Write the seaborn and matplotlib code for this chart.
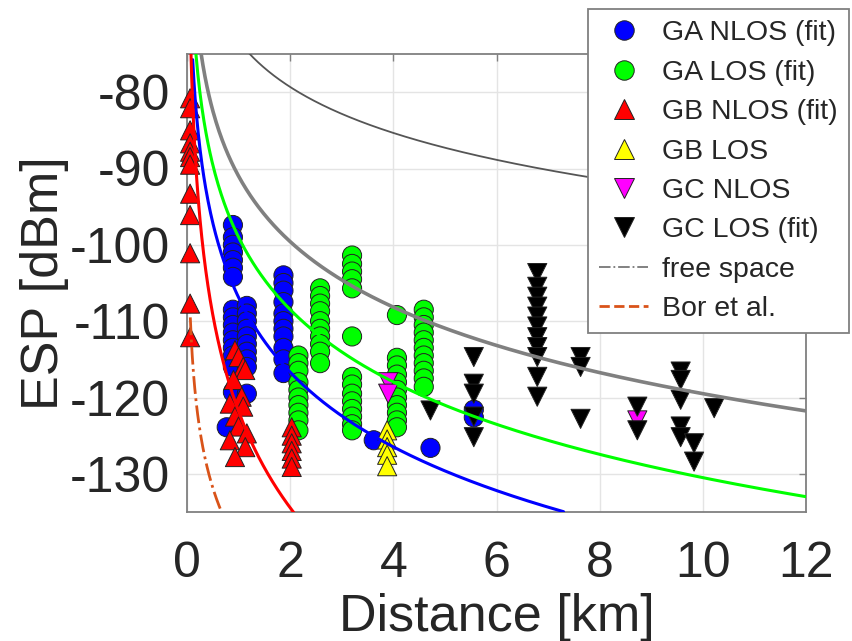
import numpy as np
import matplotlib
matplotlib.use("Agg")
import matplotlib.pyplot as plt
from matplotlib.lines import Line2D
import seaborn as sns
import pandas as pd

# measured ESP values per group (distance in km, ESP in dBm)
ga_nlos_d = [0.89]*16 + [0.77] + [1.16]*10 + [1.87]*11 + [3.62, 4.72, 5.56, 5.56]
ga_nlos_esp = [-97.4, -99, -100, -101, -102, -103, -104.2, -108.5, -109.5, -110.5,
               -111.5, -112.5, -113.5, -114.5, -116, -119.3,
               -123.9,
               -108, -109, -110, -111, -112, -113, -114, -115, -116, -119.5,
               -104, -105, -106, -107.5, -109, -110, -111, -112, -113.5, -115, -116.8,
               -125.6, -126.6, -121.6, -122.6]

ga_los_d = [2.16]*10 + [2.58]*10 + [3.2]*14 + [4.07]*11 + [4.59]*11
ga_los_esp = [-114.5, -115.5, -116.5, -118, -119, -120, -121, -122, -123, -124.3,
              -105.7, -106.7, -107.7, -108.7, -110, -111, -112, -113, -114, -115.5,
              -101.4, -102.5, -103.5, -104.5, -105.7, -112, -117.3, -118.3, -119.5,
              -120.5, -121.5, -122.5, -123.5, -124.3,
              -109.2, -114.8, -115.8, -117, -118, -119, -120, -121, -122, -123, -123.9,
              -108.5, -109.5, -110.5, -111.5, -112.5, -113.5, -114.5, -115.5, -116.5,
              -117.5, -118.6]

gb_nlos_d = ([0.06]*12 +
             [0.93, 1.0, 1.09, 1.13, 0.9, 1.06, 0.83, 1.09, 0.93, 1.0, 1.16, 0.83, 1.13, 0.93] +
             [2.03]*6)
gb_nlos_esp = [-80.8, -82.1, -85, -86.7, -87.8, -88.5, -89.5, -93.3, -96.1, -101.1, -107.7, -112.1,
               -113.8, -114.7, -116.0, -116.4, -117.7, -119.9, -120.8, -121.2, -122.5, -123.8,
               -124.7, -125.6, -126.5, -127.8,
               -123.9, -125, -126, -127, -128, -129.1]

gb_los_d = [3.88]*5
gb_los_esp = [-124.3, -125.5, -126.5, -127.5, -129]

gc_nlos_d = [3.9, 3.9, 8.73]
gc_nlos_esp = [-118, -119.5, -123]

gc_los_d = [4.72] + [5.56]*5 + [6.79]*11 + [7.63]*3 + [8.73]*2 + [9.57]*5 + [9.83]*2 + [10.22]
gc_los_esp = [-121.7,
              -114.7, -118.2, -119.5, -122.5, -125.2,
              -103.7, -105.5, -106.8, -108.1, -109.4, -110.7, -112.1, -113.4, -114.7, -117.3, -119.9,
              -114.7, -116.0, -122.8,
              -121.2, -124.3,
              -116.6, -117.7, -120.3, -123.8, -125.2,
              -126, -128.4,
              -121.4]

groups = ["GA NLOS (fit)", "GA LOS (fit)", "GB NLOS (fit)", "GB LOS", "GC NLOS", "GC LOS (fit)"]
colors = ["#0000ff", "#00ff00", "#ff0000", "#ffff00", "#ff00ff", "#000000"]
markers = ["o", "o", "^", "^", "v", "v"]

# log-distance curves: ESP = p1km - slope*log10(d), drawn between d_start and d_end
fit_names = ["free space", "GC LOS", "GA LOS", "GA NLOS", "GB NLOS", "Bor et al."]
fit_p1km = [-73.3, -91.0, -99.0, -106.9, -121.8, -139.35]
fit_slope = [20.0, 28.5, 31.5, 32.5, 42.0, 25.0]
fit_dstart = [1.2, 0.27, 0.17, 0.11, 0.07, 0.064]
fit_dend = [12, 12, 12, 7.3, 2.1, 0.68]
fit_color = ["#555555", "#808080", "#00ff00", "#0000ff", "#ff0000", "#d95319"]
fit_lw = [1.3, 2.6, 2.2, 2.2, 2.2, 2.0]
fit_ls = ["-", "-", "-", "-", "-", "-."]

df = pd.concat([
    pd.DataFrame({"d": d, "esp": e, "group": g})
    for d, e, g in zip([ga_nlos_d, ga_los_d, gb_nlos_d, gb_los_d, gc_nlos_d, gc_los_d],
                       [ga_nlos_esp, ga_los_esp, gb_nlos_esp, gb_los_esp, gc_nlos_esp, gc_los_esp],
                       groups)
], ignore_index=True)

sns.set_style("white")
plt.rcParams['font.family'] = ['Liberation Sans', 'DejaVu Sans']
plt.rcParams['axes.unicode_minus'] = False

fig = plt.figure(figsize=(8.52, 6.41), dpi=100)
ax = fig.add_axes([187/852, 1-512/641, (806-187)/852, (512-54)/641])

sns.scatterplot(data=df, x="d", y="esp", hue="group", style="group",
                hue_order=groups, style_order=groups,
                palette=dict(zip(groups, colors)), markers=dict(zip(groups, markers)),
                s=190, edgecolor="#222222", linewidth=0.7, legend=False, ax=ax, zorder=3)
for coll in ax.collections:
    coll.set_clip_on(False)

for i in range(len(fit_names)):
    dd = np.linspace(fit_dstart[i], fit_dend[i], 600)
    ax.plot(dd, fit_p1km[i] - fit_slope[i]*np.log10(dd), color=fit_color[i],
            lw=fit_lw[i], ls=fit_ls[i], zorder=4)

ax.set_xlim(0, 12)
ax.set_ylim(-135, -75)
ax.set_xticks(range(0, 13, 2))
ax.set_yticks(range(-130, -79, 10))
ax.grid(True, color="#e4e4e4", lw=1.0)
ax.set_axisbelow(True)
for sp in ax.spines.values():
    sp.set_color("#808080")
    sp.set_linewidth(1.3)
ax.tick_params(direction="in", length=5, width=1, color="#808080",
               top=True, right=True, labelsize=36, labelcolor="#262626")
ax.tick_params(axis="x", pad=21)
ax.tick_params(axis="y", pad=12)
ax.set_xlabel("Distance [km]", fontsize=37.5, color="#262626", labelpad=4)
ax.set_ylabel("ESP [dBm]", fontsize=37.5, color="#262626", labelpad=0.5)

handles = [Line2D([], [], ls="none", marker=m, color=c, markeredgecolor="#222222",
                  markeredgewidth=0.7, markersize=14) for m, c in zip(markers, colors)]
handles += [Line2D([], [], color="#777777", lw=1.3, ls="-."),
            Line2D([], [], color="#d95319", lw=2.0, ls="--")]
labels = groups + ["free space", "Bor et al."]
leg = ax.legend(handles, labels, loc="upper right", bbox_to_anchor=(849/852, 1-9/641),
                bbox_transform=fig.transFigure, fontsize=20.5, frameon=True, fancybox=False,
                framealpha=1, edgecolor="#808080", labelspacing=0.47, handlelength=1.7,
                handletextpad=0.5, borderpad=0.4, borderaxespad=0)
leg.get_frame().set_linewidth(1.3)
leg.set_zorder(10)
for t in leg.get_texts():
    t.set_color("#262626")

fig.savefig("out.png", dpi=100)
